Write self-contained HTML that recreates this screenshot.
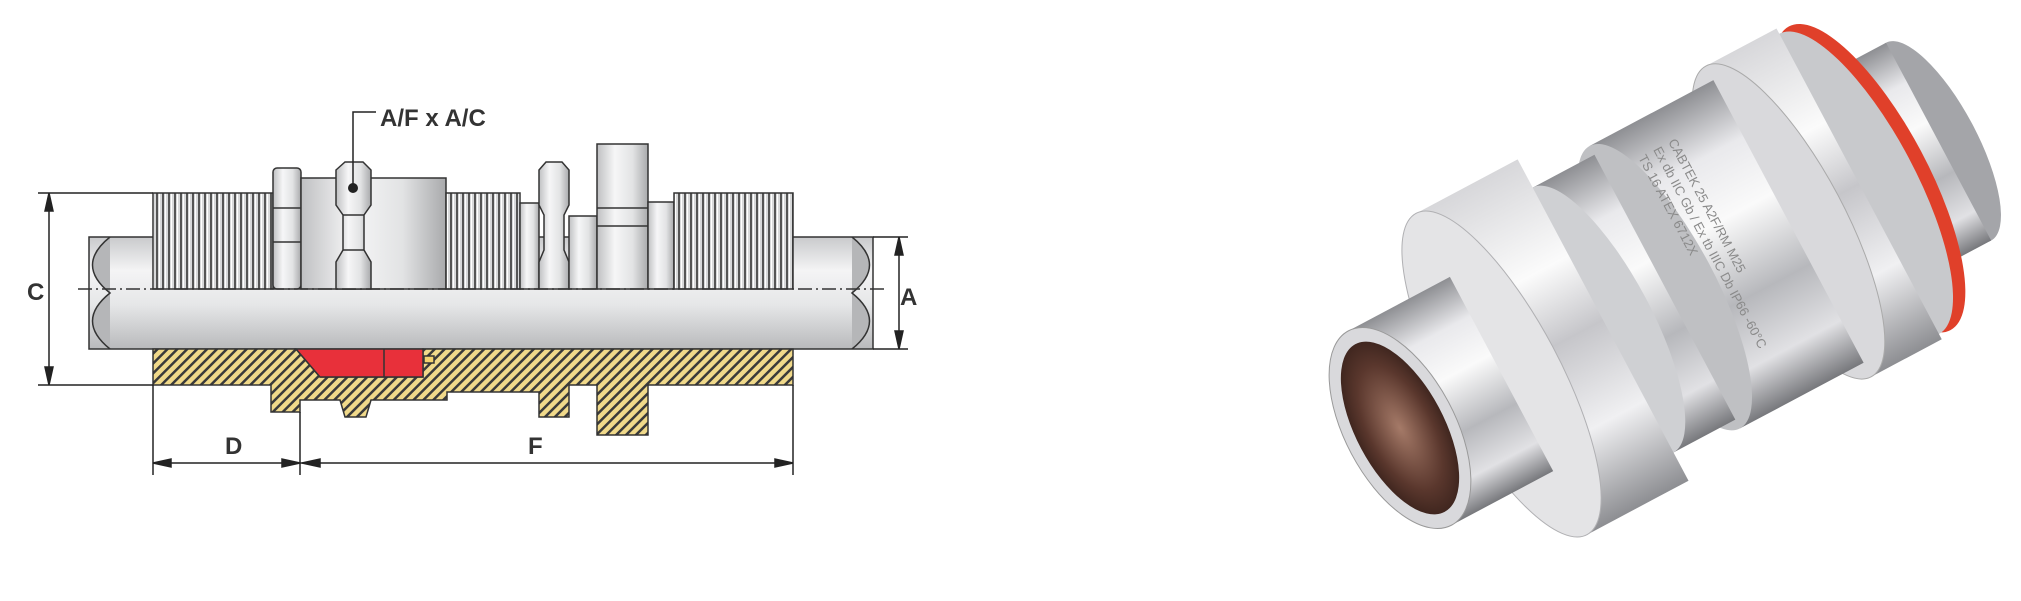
<!DOCTYPE html>
<html><head><meta charset="utf-8"><style>
html,body{margin:0;padding:0;background:#fff;}
svg{display:block;}
text{font-family:"Liberation Sans",sans-serif;font-weight:bold;fill:#333;}
</style></head><body>
<svg width="2021" height="601" viewBox="0 0 2021 601" xmlns="http://www.w3.org/2000/svg">
<defs>
<linearGradient id="pipe" x1="0" y1="0" x2="0" y2="1">
<stop offset="0" stop-color="#c9cacc"/><stop offset="0.3" stop-color="#f4f4f5"/><stop offset="0.6" stop-color="#e6e7e8"/><stop offset="1" stop-color="#b9babc"/>
</linearGradient>
<linearGradient id="met" x1="0" y1="0" x2="1" y2="0">
<stop offset="0" stop-color="#bfc0c2"/><stop offset="0.35" stop-color="#f6f6f7"/><stop offset="0.7" stop-color="#e2e3e4"/><stop offset="1" stop-color="#a9aaac"/>
</linearGradient>
<pattern id="thr" width="6" height="10" patternUnits="userSpaceOnUse">
<rect width="6" height="10" fill="#d8d9da"/><rect x="0" width="2" height="10" fill="#555"/><rect x="3" width="1" height="10" fill="#fff"/>
</pattern>
<pattern id="hatch" width="7" height="7" patternUnits="userSpaceOnUse" patternTransform="rotate(45)">
<rect width="7" height="7" fill="#f0d98a"/><rect width="2.5" height="7" fill="#3a3a3a"/>
</pattern>
<linearGradient id="pm" x1="0" y1="0" x2="0" y2="1">
<stop offset="0" stop-color="#8e8f93"/><stop offset="0.2" stop-color="#e9e9ec"/><stop offset="0.4" stop-color="#fafafa"/><stop offset="0.65" stop-color="#b7b8bc"/><stop offset="0.85" stop-color="#e1e1e4"/><stop offset="1" stop-color="#77787c"/>
</linearGradient>
<linearGradient id="hexg" x1="0" y1="0" x2="0" y2="1">
<stop offset="0" stop-color="#d7d7da"/><stop offset="0.3" stop-color="#fbfbfb"/><stop offset="0.5" stop-color="#c6c6ca"/><stop offset="0.75" stop-color="#f0f0f2"/><stop offset="1" stop-color="#8d8e92"/>
</linearGradient>
<radialGradient id="hole" cx="0.5" cy="0.5" r="0.6">
<stop offset="0" stop-color="#a57a68"/><stop offset="0.6" stop-color="#5a372d"/><stop offset="1" stop-color="#2d1a15"/>
</radialGradient>
</defs>

<!-- LEFT DIAGRAM -->
<rect x="89" y="237" width="784" height="112" fill="url(#pipe)" stroke="#333" stroke-width="1.5"/>
<path d="M110 237 Q75 265 110 293 Q75 321 110 349" fill="#b5b6b8" stroke="#333" stroke-width="1.5"/>
<path d="M852 237 Q887 265 852 293 Q887 321 852 349" fill="#b5b6b8" stroke="#333" stroke-width="1.5"/>
<g stroke="#333" stroke-width="1.5">
<rect x="153" y="193" width="120" height="96" fill="url(#thr)"/>
<rect x="273" y="168" width="28" height="121" rx="4" fill="url(#met)"/>
<line x1="273" y1="208" x2="301" y2="208"/><line x1="273" y1="242" x2="301" y2="242"/>
<rect x="301" y="178" width="145" height="111" fill="url(#met)"/>
<path d="M336 170 L345 162 L363 162 L371 170 L371 205 L364 215 L364 250 L371 262 L371 289 L336 289 L336 262 L343 250 L343 215 L336 205 Z" fill="url(#met)"/>
<line x1="343" y1="215" x2="364" y2="215"/><line x1="343" y1="250" x2="364" y2="250"/>
<rect x="446" y="193" width="74" height="96" fill="url(#thr)"/>
<rect x="520" y="203" width="19" height="86" fill="url(#met)"/>
<path d="M539 170 L546 162 L562 162 L569 170 L569 205 L564 215 L564 250 L569 262 L569 289 L539 289 L539 262 L544 250 L544 215 L539 205 Z" fill="url(#met)"/>
<rect x="569" y="216" width="28" height="73" fill="url(#met)"/>
<rect x="597" y="144" width="51" height="145" fill="url(#met)"/>
<line x1="597" y1="208" x2="648" y2="208"/><line x1="597" y1="226" x2="648" y2="226"/>
<rect x="648" y="202" width="26" height="87" fill="url(#met)"/>
<rect x="674" y="193" width="119" height="96" fill="url(#thr)"/>
</g>
<circle cx="353" cy="188" r="5" fill="#222"/>
<g stroke="#333" stroke-width="1.5">
<path d="M153 349 L296 349 L320 377 L423 377 L423 349 L793 349 L793 385 L648 385 L648 435 L597 435 L597 385 L569 385 L569 417 L539 417 L539 392 L447 392 L447 400 L371 400 L366 417 L345 417 L340 400 L300 400 L300 412 L271 412 L271 385 L153 385 Z" fill="url(#hatch)"/>
<path d="M296 349 L423 349 L423 377 L320 377 Z" fill="#e8303a"/>
<line x1="384" y1="349" x2="384" y2="377"/>
<rect x="424" y="356" width="10" height="7" fill="#f3d36f"/>
</g>
<line x1="78" y1="289" x2="885" y2="289" stroke="#333" stroke-width="1.5" stroke-dasharray="14,4,2,4"/>
<g stroke="#222" stroke-width="1.5" fill="#222">
<line x1="38" y1="193" x2="153" y2="193"/><line x1="38" y1="385" x2="153" y2="385"/>
<line x1="49" y1="193" x2="49" y2="385"/>
<path d="M49 193 l-4 18 l8 0 z"/><path d="M49 385 l-4 -18 l8 0 z"/>
<line x1="873" y1="237" x2="908" y2="237"/><line x1="873" y1="349" x2="908" y2="349"/>
<line x1="899" y1="237" x2="899" y2="349"/>
<path d="M899 237 l-4 18 l8 0 z"/><path d="M899 349 l-4 -18 l8 0 z"/>
<line x1="153" y1="385" x2="153" y2="475"/><line x1="300" y1="412" x2="300" y2="475"/><line x1="793" y1="385" x2="793" y2="475"/>
<line x1="153" y1="463" x2="793" y2="463"/>
<path d="M153 463 l18 -4 l0 8 z"/><path d="M300 463 l-18 -4 l0 8 z"/><path d="M302 463 l18 -4 l0 8 z"/><path d="M793 463 l-18 -4 l0 8 z"/>
<polyline points="353,188 353,112 376,112" fill="none"/>
</g>
<text x="27" y="300" font-size="24">C</text>
<text x="900" y="305" font-size="24">A</text>
<text x="225" y="454" font-size="24">D</text>
<text x="528" y="454" font-size="24">F</text>
<text x="380" y="126" font-size="24">A/F x A/C</text>

<!-- RIGHT PHOTO -->
<g transform="translate(1400,428) rotate(-28)">
<!-- rear thread -->
<ellipse cx="610" cy="0" rx="38" ry="112" fill="#a4a5a9"/>
<rect x="520" y="-112" width="90" height="224" fill="url(#pm)"/>
<!-- red ring -->
<ellipse cx="532" cy="0" rx="58" ry="172" fill="#e0402a"/>
<ellipse cx="520" cy="0" rx="56" ry="170" fill="#c8c9cc"/>
<!-- rear hex -->
<rect x="440" y="-176" width="80" height="352" fill="url(#hexg)"/>
<ellipse cx="440" cy="0" rx="56" ry="176" fill="#d9d9dc" stroke="#aaa"/>
<!-- body with text -->
<rect x="300" y="-160" width="140" height="320" fill="url(#pm)"/>
<ellipse cx="300" cy="0" rx="50" ry="160" fill="#bfc0c3"/>
<!-- mid thread -->
<rect x="230" y="-150" width="70" height="300" fill="url(#pm)"/>
<ellipse cx="230" cy="0" rx="48" ry="150" fill="#cfd0d3"/>
<!-- big hex -->
<rect x="115" y="-182" width="115" height="364" fill="url(#hexg)"/>
<ellipse cx="115" cy="0" rx="58" ry="182" fill="#e4e4e6" stroke="#b0b0b3"/>
<!-- front thread tube -->
<rect x="0" y="-110" width="115" height="220" fill="url(#pm)"/>
<ellipse cx="0" cy="0" rx="55" ry="110" fill="#d9d9dc" stroke="#999"/>
<ellipse cx="0" cy="0" rx="44" ry="95" fill="url(#hole)"/>
</g>
<g transform="translate(1715,230) rotate(62)" font-size="13" style="font-weight:normal">
<text x="-100" y="0" style="fill:#8a8a8a;font-weight:normal">CABTEK 25 A2F/RM M25</text>
<text x="-100" y="17" style="fill:#8a8a8a;font-weight:normal">Ex db IIC Gb / Ex tb IIIC Db IP66 -60°C</text>
<text x="-100" y="34" style="fill:#8a8a8a;font-weight:normal">TS 16 ATEX 6712X</text>
</g>
</svg>
</body></html>
